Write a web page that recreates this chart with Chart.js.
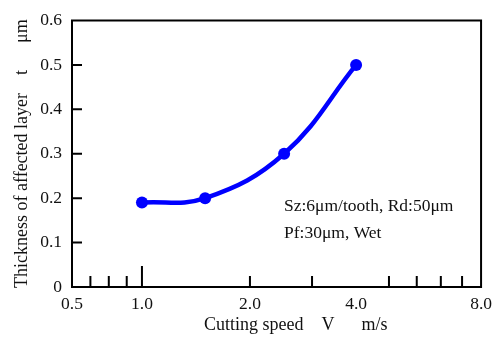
<!DOCTYPE html>
<html><head><meta charset="utf-8">
<script src="https://cdn.jsdelivr.net/npm/chart.js@4"></script>
<style>html,body{margin:0;padding:0;background:#fff}#wrap{width:499px;height:339px}</style>
</head><body><div id="wrap"><canvas id="c" width="499" height="339"></canvas></div>
<script>
const speeds = [1.0, 1.5, 2.5, 4.0];
const thickness = [0.19, 0.20, 0.30, 0.50];
const xTickLabels = [0.5, 1.0, 2.0, 4.0, 8.0];
const xMinorTicks = [0.6, 0.72, 0.86, 2.0, 3.0, 4.8, 5.6, 6.4, 7.2];
const xLongTicks = [1.0];
const yTickValues = [0.1, 0.2, 0.3, 0.4, 0.5];
const xAxisTitle = 'Cutting speed    V      m/s';
const yAxisTitle = 'Thickness of affected layer    t      \u03bcm';
const noteLines = ['Sz:6\u03bcm/tooth, Rd:50\u03bcm', 'Pf:30\u03bcm, Wet'];

// calibration of the printed (unevenly spaced) logarithmic speed axis
const xAnchorValues = [0.5, 1, 2, 4, 8];
const xAnchorFractions = [0, 0.171, 0.435, 0.6945, 1];

const FONT = 'Liberation Serif';

class PiecewiseLogScale extends Chart.LinearScale {
  static id = 'pwlog';
  static defaults = {};
  buildTicks() {
    this.min = xAnchorValues[0];
    this.max = xAnchorValues[xAnchorValues.length - 1];
    return xTickLabels.map(v => ({ value: v }));
  }
  _frac(v) {
    const a = xAnchorValues, f = xAnchorFractions;
    let i = 0;
    while (i < a.length - 2 && v > a[i + 1]) i++;
    const t = Math.log(v / a[i]) / Math.log(a[i + 1] / a[i]);
    return f[i] + t * (f[i + 1] - f[i]);
  }
  getPixelForValue(v) { return this.getPixelForDecimal(this._frac(v)); }
  getValueForPixel(p) {
    const d = this.getDecimalForPixel(p);
    const a = xAnchorValues, f = xAnchorFractions;
    let i = 0;
    while (i < f.length - 2 && d > f[i + 1]) i++;
    const t = (d - f[i]) / (f[i + 1] - f[i]);
    return a[i] * Math.pow(a[i + 1] / a[i], t);
  }
}
Chart.register(PiecewiseLogScale);

const decor = {
  id: 'decor',
  beforeDatasetsDraw(chart) {
    const { ctx, chartArea: ca, scales: { x, y } } = chart;
    ctx.save();
    ctx.strokeStyle = '#000';
    ctx.lineWidth = 2;
    ctx.strokeRect(ca.left, ca.top, ca.right - ca.left, ca.bottom - ca.top);
    ctx.beginPath();
    yTickValues.forEach(v => {
      const py = y.getPixelForValue(v);
      ctx.moveTo(ca.left, py); ctx.lineTo(ca.left + 10, py);
    });
    xMinorTicks.forEach(v => {
      const px = x.getPixelForValue(v);
      ctx.moveTo(px, ca.bottom); ctx.lineTo(px, ca.bottom - 11);
    });
    xLongTicks.forEach(v => {
      const px = x.getPixelForValue(v);
      ctx.moveTo(px, ca.bottom); ctx.lineTo(px, ca.bottom - 21);
    });
    ctx.stroke();
    ctx.restore();
  },
  afterDraw(chart) {
    const { ctx } = chart;
    ctx.save();
    ctx.fillStyle = '#111';
    ctx.textBaseline = 'middle';
    ctx.textAlign = 'left';
    ctx.font = '18px "' + FONT + '"';
    ctx.fillText(xAxisTitle, 204, 325);
    ctx.save();
    ctx.translate(22, 288);
    ctx.rotate(-Math.PI / 2);
    ctx.fillText(yAxisTitle, 0, 0);
    ctx.restore();
    ctx.font = '17.5px "' + FONT + '"';
    ctx.fillText(noteLines[0], 284, 206);
    ctx.fillText(noteLines[1], 284, 233);
    ctx.restore();
  }
};

new Chart(document.getElementById('c'), {
  type: 'line',
  data: {
    datasets: [{
      data: speeds.map((s, i) => ({ x: s, y: thickness[i] })),
      borderColor: '#0000ff',
      backgroundColor: '#0000ff',
      borderWidth: 4.5,
      pointRadius: 6,
      pointBorderWidth: 0,
      pointBackgroundColor: '#0000ff',
      tension: 0.4,
      fill: false,
      clip: false
    }]
  },
  options: {
    responsive: false,
    animation: false,
    devicePixelRatio: 1,
    layout: { padding: { top: 19, right: 14, left: 0, bottom: 0 } },
    plugins: { legend: { display: false }, tooltip: { enabled: false } },
    scales: {
      x: {
        type: 'pwlog',
        position: 'bottom',
        grid: { display: false, drawTicks: false },
        border: { display: false },
        ticks: {
          autoSkip: false, maxRotation: 0, padding: 7,
          color: '#111', font: { family: FONT, size: 17.5 },
          callback: v => Number(v).toFixed(1)
        },
        afterFit: s => { s.height = 52; }
      },
      y: {
        type: 'linear',
        min: 0, max: 0.6,
        grid: { display: false, drawTicks: false },
        border: { display: false },
        ticks: {
          stepSize: 0.1, padding: 10,
          color: '#111', font: { family: FONT, size: 17.5 },
          callback: v => (Math.abs(v) < 1e-9 ? '0' : Number(v).toFixed(1))
        },
        afterFit: s => { s.width = 72; }
      }
    }
  },
  plugins: [decor]
});
</script>
</body></html>
